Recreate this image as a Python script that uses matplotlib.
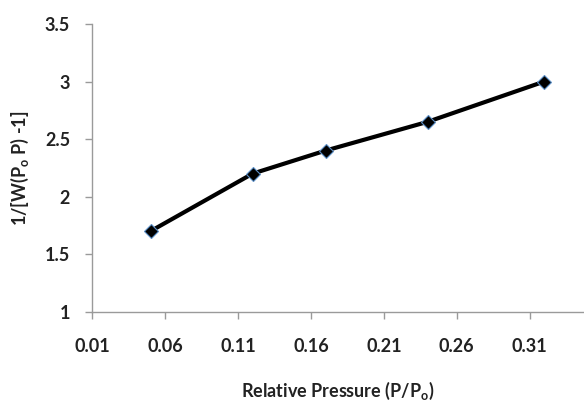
import matplotlib
matplotlib.use("Agg")
import matplotlib.pyplot as plt

x_vals = [0.05, 0.12, 0.17, 0.24, 0.32]
y_vals = [1.70, 2.20, 2.40, 2.65, 3.00]
x_ticks = [0.01, 0.06, 0.11, 0.16, 0.21, 0.26, 0.31]
y_ticks = [1, 1.5, 2, 2.5, 3, 3.5]

plt.rcParams['font.family'] = ['Lato', 'DejaVu Sans']
plt.rcParams['mathtext.fontset'] = 'custom'
plt.rcParams['mathtext.rm'] = 'Lato:bold'

fig = plt.figure(figsize=(5.84, 4.04), dpi=100)
ax = fig.add_axes([92.3/584, 1 - 311.7/404, (584 - 92.3)/584, (311.7 - 24)/404])

ax.plot(x_vals, y_vals, color='black', lw=3.0, marker='D', markersize=7.5,
        markerfacecolor='black', markeredgecolor='#5b8fc7', markeredgewidth=0.8,
        clip_on=False, zorder=3)

ax.set_xlim(0.01, 0.01 + (584 - 92.3) / 72.9 * 0.05)
ax.set_ylim(1, 3.5)
ax.set_xticks(x_ticks)
ax.set_xticklabels([f"{t:.2f}" for t in x_ticks])
ax.set_yticks(y_ticks)
ax.set_yticklabels([f"{t:g}" for t in y_ticks])

for s in ['top', 'right']:
    ax.spines[s].set_visible(False)
for s in ['left', 'bottom']:
    ax.spines[s].set_color('#9a9a9a')
    ax.spines[s].set_linewidth(1.0)

ax.tick_params(axis='both', direction='out', length=5, width=1, color='#9a9a9a',
               labelsize=13, labelcolor='#222222')
ax.tick_params(axis='x', pad=14)
ax.tick_params(axis='y', pad=11)
for lab in ax.get_xticklabels() + ax.get_yticklabels():
    lab.set_fontweight('bold')

ax.set_xlabel(r"Relative Pressure (P/P$_\mathrm{o}$)", fontsize=13, fontweight='bold',
              color='#222222', labelpad=18)
ax.set_ylabel(r"1/[W(P$_\mathrm{o}$ P) -1]", fontsize=13, fontweight='bold',
              color='#222222', labelpad=10)

fig.savefig("out.png", dpi=100)
